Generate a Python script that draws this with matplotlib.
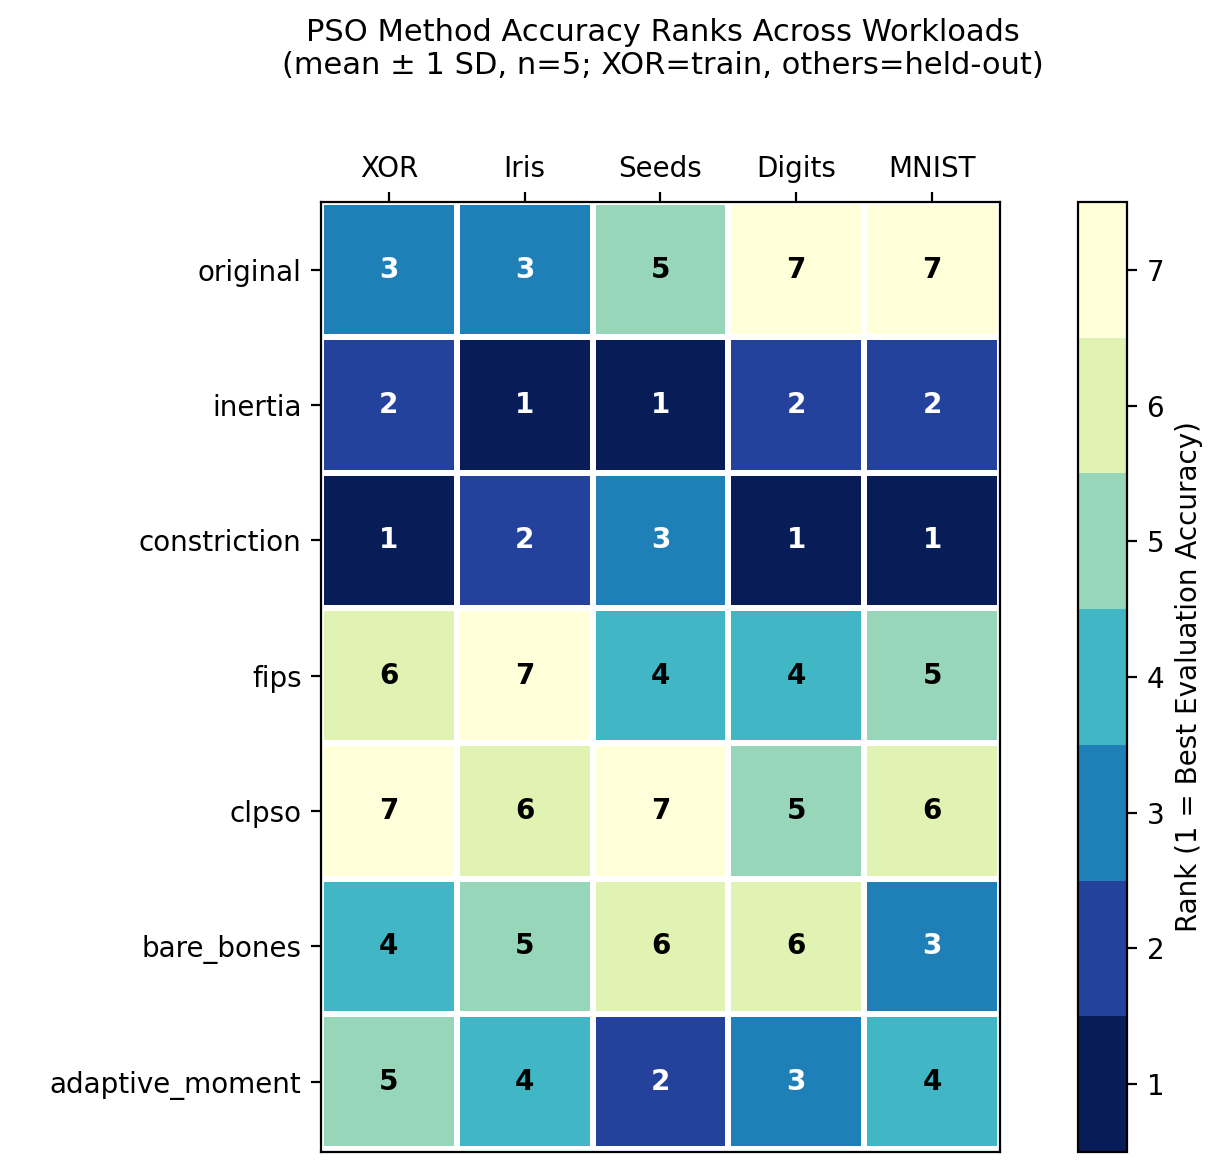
import matplotlib
matplotlib.use("Agg")
import matplotlib.pyplot as plt
import numpy as np

methods = ["original", "inertia", "constriction", "fips", "clpso", "bare_bones", "adaptive_moment"]
workloads = ["XOR", "Iris", "Seeds", "Digits", "MNIST"]
ranks = [
    [3, 3, 5, 7, 7],
    [2, 1, 1, 2, 2],
    [1, 2, 3, 1, 1],
    [6, 7, 4, 4, 5],
    [7, 6, 7, 5, 6],
    [4, 5, 6, 6, 3],
    [5, 4, 2, 3, 4],
]
R = np.array(ranks)

fig = plt.figure(figsize=(6.135, 5.87), dpi=200)
ax = fig.add_axes([0.2616, 0.0187, 0.5534, 0.8092])
cax = fig.add_axes([0.8786, 0.0187, 0.040, 0.8092])
cmap = plt.get_cmap("YlGnBu_r", 7)
m = ax.pcolormesh(np.arange(len(workloads) + 1), np.arange(len(methods) + 1), R,
                  cmap=cmap, vmin=0.5, vmax=7.5, edgecolors="white", linewidth=1.5)
ax.set_xlim(0, len(workloads))
ax.set_ylim(len(methods) + 0.02, 0)
ax.set_xticks(np.arange(len(workloads)) + 0.5)
ax.set_xticklabels(workloads)
ax.set_yticks(np.arange(len(methods)) + 0.5)
ax.set_yticklabels(methods)
ax.xaxis.tick_top()
for i in range(len(methods)):
    for j in range(len(workloads)):
        v = R[i, j]
        ax.text(j + 0.5, i + 0.5, str(v), ha="center", va="center", fontweight="bold",
                color="white" if v <= 3 else "black", fontsize=10)
cb = fig.colorbar(m, cax=cax, ticks=range(1, 8))
cb.set_label("Rank (1 = Best Evaluation Accuracy)")
fig.suptitle("PSO Method Accuracy Ranks Across Workloads\n(mean ± 1 SD, n=5; XOR=train, others=held-out)",
             x=0.54, y=0.985, fontsize=11)
fig.savefig("out.png", dpi=200)
